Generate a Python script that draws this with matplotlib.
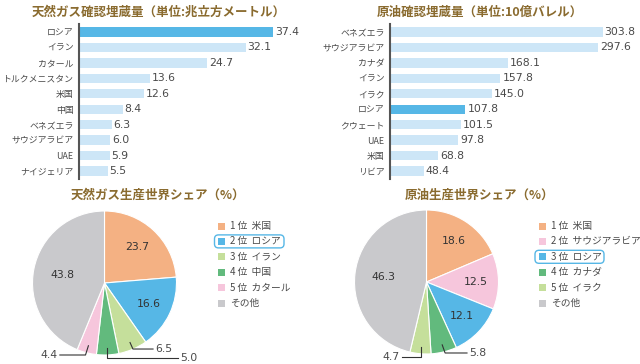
import numpy as np
import matplotlib
matplotlib.use("Agg")
import matplotlib.pyplot as plt
from matplotlib.patches import FancyBboxPatch, Rectangle

plt.rcParams['font.family'] = ['Noto Sans CJK JP', 'DejaVu Sans']

# data
gas_countries = ["ロシア", "イラン", "カタール", "トルクメニスタン", "米国", "中国",
                 "ベネズエラ", "サウジアラビア", "UAE", "ナイジェリア"]
gas_reserves = [37.4, 32.1, 24.7, 13.6, 12.6, 8.4, 6.3, 6.0, 5.9, 5.5]

oil_countries = ["ベネズエラ", "サウジアラビア", "カナダ", "イラン", "イラク", "ロシア",
                 "クウェート", "UAE", "米国", "リビア"]
oil_reserves = [303.8, 297.6, 168.1, 157.8, 145.0, 107.8, 101.5, 97.8, 68.8, 48.4]

gas_share_labels = ["1 位  米国", "2 位  ロシア", "3 位  イラン", "4 位  中国", "5 位  カタール", "その他"]
gas_share = [23.7, 16.6, 6.5, 5.0, 4.4, 43.8]

oil_share_labels = ["1 位  米国", "2 位  サウジアラビア", "3 位  ロシア", "4 位  カナダ", "5 位  イラク", "その他"]
oil_share = [18.6, 12.5, 12.1, 5.8, 4.7, 46.3]

TITLE_C = "#8a6b2f"
TEXT_C = "#4a4a4a"
BAR_C = "#cde6f7"
HI_C = "#56b7e6"
ORANGE, BLUE, LGREEN, GREEN, PINK, GRAY = "#f4b183", "#56b7e6", "#c5df9b", "#62ba7d", "#f6c6dc", "#c9c9cc"
NUM_FONT = ["DejaVu Sans"]

W, H = 640, 364
fig = plt.figure(figsize=(6.4, 3.64), dpi=100)


def px_axes(x0, y0, x1, y1):
    return fig.add_axes([x0 / W, 1 - y1 / H, (x1 - x0) / W, (y1 - y0) / H])


def bar_panel(ax, names, vals, xmax, highlight, fmt):
    y = np.arange(len(vals))
    colors = [HI_C if n == highlight else BAR_C for n in names]
    ax.barh(y, vals, height=0.6, color=colors)
    for yi, v in zip(y, vals):
        ax.text(v + xmax * 0.008, yi, fmt.format(v), va="center", ha="left",
                fontsize=7.8, color=TEXT_C, family=NUM_FONT)
    ax.set_xlim(0, xmax)
    ax.set_ylim(len(vals) - 0.5, -0.5)
    ax.set_yticks(y, names)
    ax.set_xticks([])
    ax.tick_params(axis="y", length=0, pad=4, labelsize=6.4, labelcolor=TEXT_C)
    for s in ["top", "right", "bottom"]:
        ax.spines[s].set_visible(False)
    ax.spines["left"].set_color("#555555")
    ax.spines["left"].set_linewidth(1.5)
    ax.patch.set_visible(False)


ax1 = px_axes(79, 24.3, 79 + 45 * 5.19, 178.7)
bar_panel(ax1, gas_countries, gas_reserves, 45, "ロシア", "{:.1f}")

ax2 = px_axes(390, 24.3, 390 + 340 * 0.70, 178.7)
bar_panel(ax2, oil_countries, oil_reserves, 340, "ロシア", "{:.1f}")


def pie_panel(cx, cy, r, vals, colors, outside):
    ext = 1.35
    ax = px_axes(cx - ext * r, cy - ext * r, cx + ext * r, cy + ext * r)
    wedges, _ = ax.pie(vals, colors=colors, startangle=90, counterclock=False,
                       radius=1, wedgeprops=dict(edgecolor="white", linewidth=0.8))
    ax.set_xlim(-ext, ext)
    ax.set_ylim(-ext, ext)
    ax.set_aspect("equal")
    ax.axis("off")
    for i, (w, v) in enumerate(zip(wedges, vals)):
        ang = np.deg2rad((w.theta1 + w.theta2) / 2)
        if i in outside:
            x0, y0 = 0.9 * np.cos(ang), 0.9 * np.sin(ang)
            yb, xend, side = outside[i]
            xb = x0 + side * 0.04 if abs(x0) > 0.15 else x0
            ax.plot([x0, xb, xend], [y0, yb, yb], color="#333333", lw=0.8, clip_on=False)
            ax.text(xend + side * 0.03, yb, f"{v:.1f}", ha="left" if side > 0 else "right",
                    va="center", fontsize=7.8, color=TEXT_C, clip_on=False, family=NUM_FONT)
        else:
            rr = 0.6 if v > 40 else 0.68
            ax.text(rr * np.cos(ang), rr * np.sin(ang), f"{v:.1f}", ha="center",
                    va="center", fontsize=7.8, color="#333333", family=NUM_FONT)
    return ax


pie_panel(104.5, 283, 72, gas_share, [ORANGE, BLUE, LGREEN, GREEN, PINK, GRAY],
          {2: (-0.917, 0.674, 1), 3: (-1.04, 1.02, 1), 4: (-1.0, -0.62, -1)})
pie_panel(426.5, 282, 72, oil_share, [ORANGE, PINK, BLUE, GREEN, LGREEN, GRAY],
          {3: (-0.986, 0.5625, 1), 4: (-1.04, -0.34, -1)})

# overlay for titles and legends, in pixel coordinates
ov = fig.add_axes([0, 0, 1, 1])
ov.set_xlim(0, W)
ov.set_ylim(H, 0)
ov.axis("off")

ov.text(159, 12, "天然ガス確認埋蔵量（単位:兆立方メートル）", ha="center", va="center",
        fontsize=9, fontweight="bold", color=TITLE_C)
ov.text(480, 12, "原油確認埋蔵量（単位:10億バレル）", ha="center", va="center",
        fontsize=9, fontweight="bold", color=TITLE_C)
ov.text(158, 195, "天然ガス生産世界シェア（%）", ha="center", va="center",
        fontsize=9, fontweight="bold", color=TITLE_C)
ov.text(480, 195, "原油生産世界シェア（%）", ha="center", va="center",
        fontsize=9, fontweight="bold", color=TITLE_C)


def legend(x_sq, x_txt, labels, colors, hi, box_right):
    for i, (lab, c) in enumerate(zip(labels, colors)):
        yy = 226 + i * 15.4
        ov.add_patch(Rectangle((x_sq - 3.5, yy - 3.5), 7, 7, color=c, lw=0))
        ov.text(x_txt, yy, lab, ha="left", va="center", fontsize=7, color=TEXT_C)
        if i == hi:
            ov.add_patch(FancyBboxPatch((x_sq - 7, yy - 6.5), box_right - x_sq + 7, 13,
                                        boxstyle="round,pad=0,rounding_size=4",
                                        fill=False, ec=HI_C, lw=1))


legend(221.5, 230, gas_share_labels, [ORANGE, BLUE, LGREEN, GREEN, PINK, GRAY], 1, 284)
legend(542, 551, oil_share_labels, [ORANGE, PINK, BLUE, GREEN, LGREEN, GRAY], 2, 604)

fig.savefig("out.png", dpi=100)
